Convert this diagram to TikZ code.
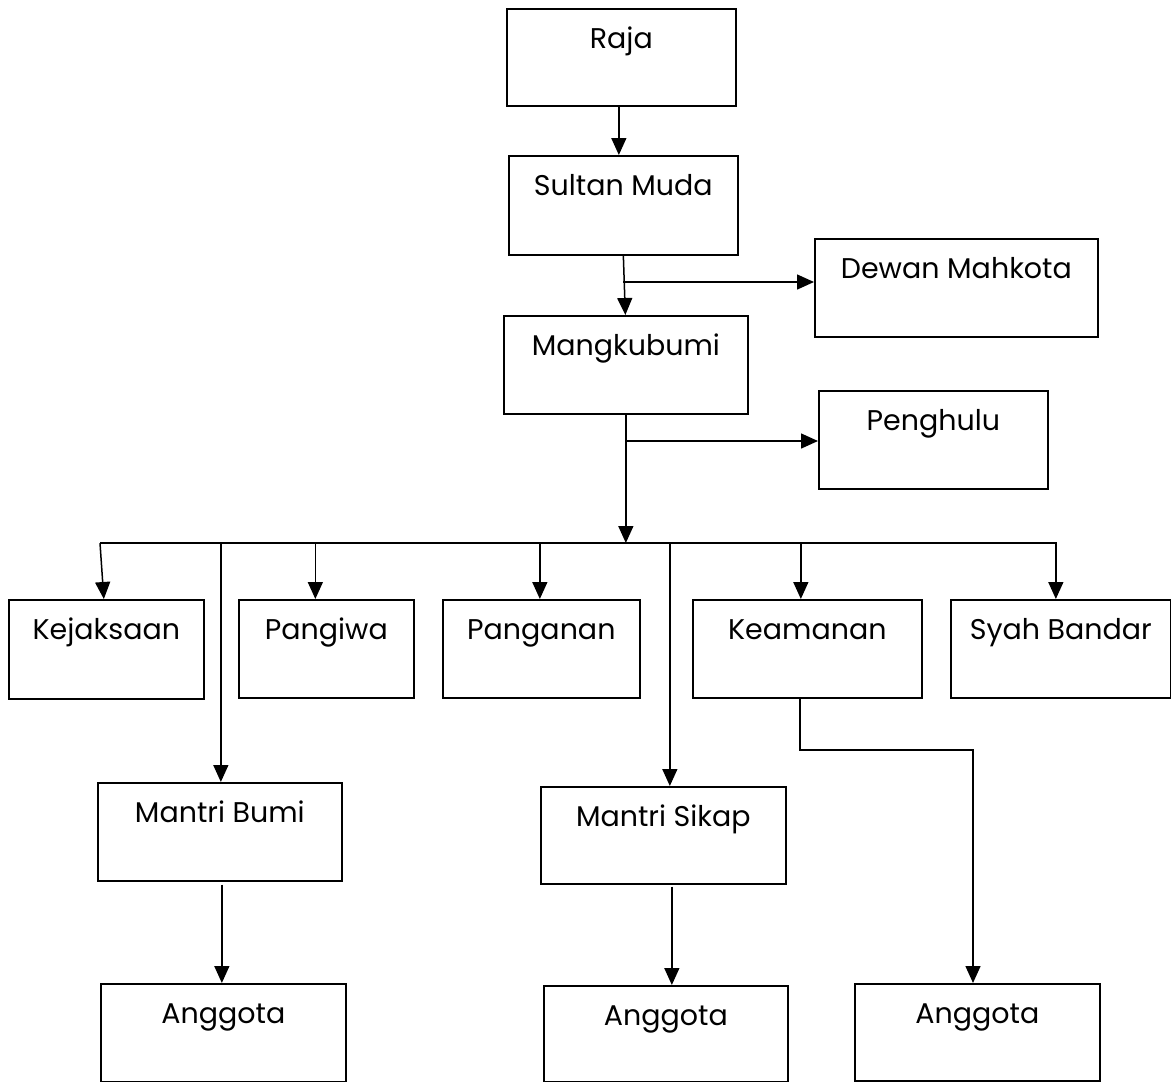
\documentclass[tikz,border=0pt]{standalone}
\usepackage{fontspec}
\setmainfont{Poppins}
\usetikzlibrary{arrows.meta}
\begin{document}
\begin{tikzpicture}[x=1pt,y=-1pt,
  bx/.style 2 args={draw, line width=1.7pt, anchor=north west, inner sep=0pt,
    minimum width=#1, text height=40pt, text depth=#2,
    font=\fontsize{28.5}{33}\selectfont},
  conn/.style={line width=1.5pt},
  arr/.style={conn, -{Triangle[width=15pt,length=17pt]}}]
\useasboundingbox (0,0) rectangle (1171,1082);
% boxes (top-left corner, width, depth below baseline)
\node[bx={229pt}{57pt}] (raja) at (506,8) {Raja};
\node[bx={229pt}{59pt}] (sultan) at (508,155) {Sultan Muda};
\node[bx={283pt}{58pt}] (dewan) at (814,238) {Dewan Mahkota};
\node[bx={244pt}{58pt}] (mangku) at (503,315) {Mangkubumi};
\node[bx={229pt}{58pt}] (penghulu) at (818,390) {Penghulu};
\node[bx={195pt}{59pt}] (kejak) at (8,599) {Kejaksaan};
\node[bx={175pt}{58pt}] (pangiwa) at (238,599) {Pangiwa};
\node[bx={197pt}{58pt}] (panganan) at (442,599) {Panganan};
\node[bx={229pt}{58pt}] (keamanan) at (692,599) {Keamanan};
\node[bx={220pt}{58pt}] (syah) at (950,599) {Syah Bandar};
\node[bx={244pt}{58pt}] (mbumi) at (97,782) {Mantri Bumi};
\node[bx={245pt}{57pt}] (msikap) at (540,786) {Mantri Sikap};
\node[bx={245pt}{58pt}] (ang1) at (100,983) {Anggota};
\node[bx={244pt}{56pt}] (ang2) at (543,985) {Anggota};
\node[bx={245pt}{57pt}] (ang3) at (854,983) {Anggota};
% helper coordinates
\coordinate (c1) at (623,282);
\coordinate (c2) at (625,441);
\coordinate (busL) at (100,543);
\coordinate (busR) at (1057,543);
\coordinate (k3) at (973,750);
\coordinate (s3) at ([xshift=-5pt]syah.north);
% connectors
\draw[arr] ([xshift=-2.5pt]raja.south) -- ([xshift=-4.5pt]sultan.north);
\draw[arr] (sultan.south) -- ([xshift=-0.5pt]mangku.north);
\draw[arr] (c1) -- (c1 -| dewan.west);
\draw[arr] (mangku.south) -- (mangku.south |- busL);
\draw[arr] (c2) -- (c2 -| penghulu.west);
\draw[conn] (busL) -- (busR);
\draw[arr] (busL) -- ([xshift=-2.5pt]kejak.north);
\draw[arr] ([xshift=1pt]mbumi.north |- busL) -- ([xshift=1pt]mbumi.north);
\draw[arr] ([xshift=-11pt]pangiwa.north |- busL) -- ([xshift=-11pt]pangiwa.north);
\draw[arr] ([xshift=-1.5pt]panganan.north |- busL) -- ([xshift=-1.5pt]panganan.north);
\draw[arr] ([xshift=6.5pt]msikap.north |- busL) -- ([xshift=6.5pt]msikap.north);
\draw[arr] ([xshift=-6.5pt]keamanan.north |- busL) -- ([xshift=-6.5pt]keamanan.north);
\draw[arr] (s3 |- busR) -- (s3);
\draw[arr] ([xshift=-7.5pt]keamanan.south) |- (k3) -- (k3 |- ang3.north);
\draw[arr] ([xshift=2pt,yshift=-3pt]mbumi.south) -- ([xshift=-1.5pt]ang1.north);
\draw[arr] ([xshift=8.5pt,yshift=-2pt]msikap.south) -- ([xshift=6pt]ang2.north);
\end{tikzpicture}
\end{document}
